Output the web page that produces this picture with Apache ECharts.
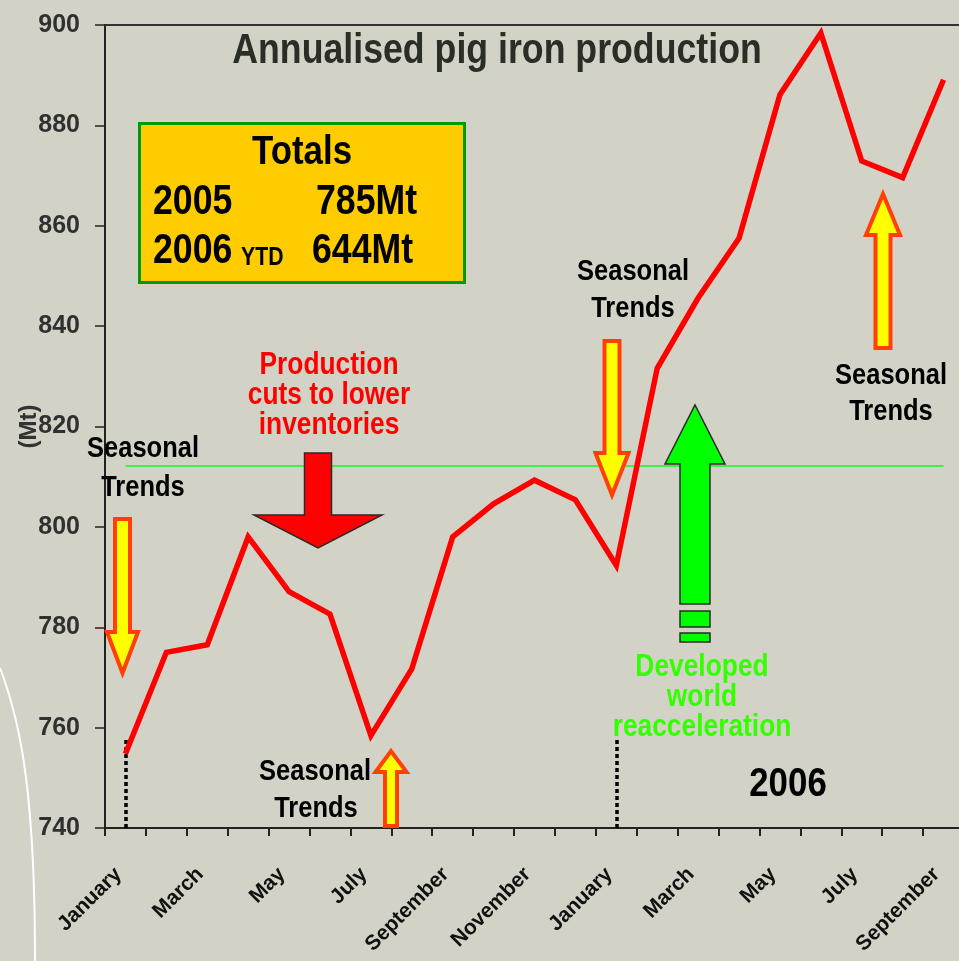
<!DOCTYPE html>
<html>
<head>
<meta charset="utf-8">
<script src="https://cdn.jsdelivr.net/npm/echarts@6/dist/echarts.min.js"></script>
<style>
html,body{margin:0;padding:0;background:#d2d2c6;}
#chart{width:959px;height:961px;}
</style>
</head>
<body>
<div id="chart"></div>
<script>
// ---- data ----
const months = ['January','February','March','April','May','June','July','August','September','October','November','December',
                'January','February','March','April','May','June','July','August','September'];
const production = [754.8, 775.0, 776.5, 798.0, 787.1, 782.6, 758.4, 771.7, 798.0, 804.6, 809.3, 805.4,
                    792.3, 831.6, 845.6, 857.5, 886.1, 898.4, 872.9, 869.6, 889.1];
const referenceLevel = 812.2;
const yearStartIndex = [0, 12];
const yearMarkerTop = 758;
const yTicks = [740, 900, 20];
const totalsLines = ['Totals', '2005', '785Mt', '2006', 'YTD', '644Mt'];

const FONT = "'Liberation Sans',Arial,sans-serif";
const SX = 0.85; // narrow face emulation

const chart = echarts.init(document.getElementById('chart'), null, {renderer:'canvas'});

function arrow(o){
  const {x, tip, headBase, end, sh, hh} = o;
  return [[x-sh,end],[x+sh,end],[x+sh,headBase],[x+hh,headBase],[x,tip],[x-hh,headBase],[x-sh,headBase]];
}
function txt(text, x, y, size, color, align, extra){
  return {type:'text', x:x, y:y, z:100, scaleX:SX, scaleY:1,
    style:Object.assign({text:text, font:'bold '+size+'px '+FONT, fill:color,
      textAlign:align||'center', textVerticalAlign:'middle'}, extra||{})};
}
const yellowStyle = {fill:'#ffff00', stroke:'#ff4000', lineWidth:4, lineJoin:'miter'};
const greenShadow = {textShadowColor:'#1a1a1a', textShadowOffsetX:1.5, textShadowOffsetY:1.5, textShadowBlur:0};

const graphics = [
  {type:'bezierCurve', z:0, shape:{x1:0,y1:668,cpx1:22,cpy1:725,cpx2:35,cpy2:800,x2:35,y2:961}, style:{stroke:'#ffffff', lineWidth:2, fill:null}},
  // totals box
  {type:'rect', z:50, shape:{x:139.5,y:123.5,width:325,height:159}, style:{fill:'#ffcc00', stroke:'#009900', lineWidth:3}},
  txt(totalsLines[0], 302, 153, 41, '#000'),
  txt(totalsLines[1], 153, 202, 42, '#000', 'left'),
  txt(totalsLines[2], 316, 202, 42, '#000', 'left'),
  txt(totalsLines[3], 153, 251, 42, '#000', 'left'),
  txt(totalsLines[4], 241, 258, 25, '#000', 'left'),
  txt(totalsLines[5], 312, 251, 42, '#000', 'left'),
  // title
  txt('Annualised pig iron production', 497, 51, 42, '#2b2e26'),
  // red text + arrow
  txt('Production', 329, 365, 31, '#ff0000'),
  txt('cuts to lower', 329, 395, 31, '#ff0000'),
  txt('inventories', 329, 425, 31, '#ff0000'),
  {type:'polygon', z:40, shape:{points:arrow({x:318, tip:548, headBase:515, end:453, sh:13.5, hh:64})}, style:{fill:'#ff0000', stroke:'#2a2a2a', lineWidth:1.5}},
  // seasonal trends labels
  txt('Seasonal', 143, 449, 30, '#000'),
  txt('Trends', 143, 488, 30, '#000'),
  txt('Seasonal', 315, 772, 30, '#000'),
  txt('Trends', 316, 809, 30, '#000'),
  txt('Seasonal', 633, 272, 30, '#000'),
  txt('Trends', 633, 309, 30, '#000'),
  txt('Seasonal', 891, 376, 30, '#000'),
  txt('Trends', 891, 412, 30, '#000'),
  // yellow arrows
  {type:'polygon', z:40, shape:{points:arrow({x:122.5, tip:673, headBase:632, end:519, sh:7.5, hh:15.5})}, style:yellowStyle},
  {type:'polygon', z:40, shape:{points:arrow({x:612, tip:495, headBase:453, end:341, sh:7.5, hh:16.5})}, style:yellowStyle},
  {type:'polygon', z:40, shape:{points:arrow({x:391, tip:751, headBase:772, end:826, sh:6, hh:15.5})}, style:yellowStyle},
  {type:'polygon', z:40, shape:{points:arrow({x:883, tip:194, headBase:235, end:348, sh:7.5, hh:17})}, style:yellowStyle},
  // green arrow
  {type:'polygon', z:40, shape:{points:arrow({x:695, tip:405, headBase:464, end:604, sh:15, hh:30})}, style:{fill:'#00ff00', stroke:'#2a2a2a', lineWidth:1.5}},
  {type:'rect', z:40, shape:{x:680,y:611,width:30,height:16}, style:{fill:'#00ff00', stroke:'#2a2a2a', lineWidth:1.5}},
  {type:'rect', z:40, shape:{x:680,y:633,width:30,height:9}, style:{fill:'#00ff00', stroke:'#2a2a2a', lineWidth:1.5}},
  txt('Developed', 702, 667, 31, '#33ff00', 'center', greenShadow),
  txt('world', 702, 697, 31, '#33ff00', 'center', greenShadow),
  txt('reacceleration', 702, 727, 31, '#33ff00', 'center', greenShadow),
  txt('2006', 788, 785, 41, '#000')
];

const option = {
  backgroundColor:'#d2d2c6',
  animation:false,
  grid:{left:105, top:25, right:-5, bottom:133, containLabel:false, outerBoundsMode:'none'},
  xAxis:[{
    type:'category', data:months, boundaryGap:true,
    axisLine:{show:true, lineStyle:{color:'#222', width:2}},
    axisTick:{show:true, interval:0, length:8, lineStyle:{color:'#222', width:2}},
    axisLabel:{interval:1, rotate:45, margin:36, padding:[0,10,0,0], color:'#111', fontFamily:FONT, fontWeight:'bold', fontSize:21},
    splitLine:{show:false}
  },{
    type:'category', data:months, position:'top',
    axisLine:{show:true, lineStyle:{color:'#333', width:2}},
    axisTick:{show:false}, axisLabel:{show:false}, splitLine:{show:false}
  }],
  yAxis:{
    type:'value', min:yTicks[0], max:yTicks[1], interval:yTicks[2],
    name:'(Mt)', nameLocation:'middle', nameGap:64, nameRotate:90, nameMoveOverlap:false,
    nameTextStyle:{color:'#333', fontFamily:FONT, fontWeight:'bold', fontSize:24},
    axisLine:{show:true, lineStyle:{color:'#222', width:2}},
    axisTick:{show:true, inside:false, length:10, lineStyle:{color:'#222', width:1.5}},
    axisLabel:{margin:25, color:'#303030', fontFamily:FONT, fontWeight:'bold', fontSize:25},
    splitLine:{show:false}
  },
  series:[{
    type:'line', data:production, showSymbol:false, symbol:'none', z:20,
    lineStyle:{color:'#ff0000', width:5.5, join:'miter'},
    markLine:{
      silent:true, symbol:'none', z:10, label:{show:false},
      data:[
        [{coord:[0, referenceLevel], lineStyle:{color:'#44ee44', width:2, type:'solid'}}, {coord:[months.length-1, referenceLevel]}],
        [{coord:[yearStartIndex[0], yTicks[0]], lineStyle:{color:'#000', width:3.5, type:[4,3]}}, {coord:[yearStartIndex[0], yearMarkerTop]}],
        [{coord:[yearStartIndex[1], yTicks[0]], lineStyle:{color:'#000', width:3.5, type:[4,3]}}, {coord:[yearStartIndex[1], yearMarkerTop]}]
      ]
    }
  }],
  graphic:graphics
};
chart.setOption(option);
</script>
</body>
</html>
